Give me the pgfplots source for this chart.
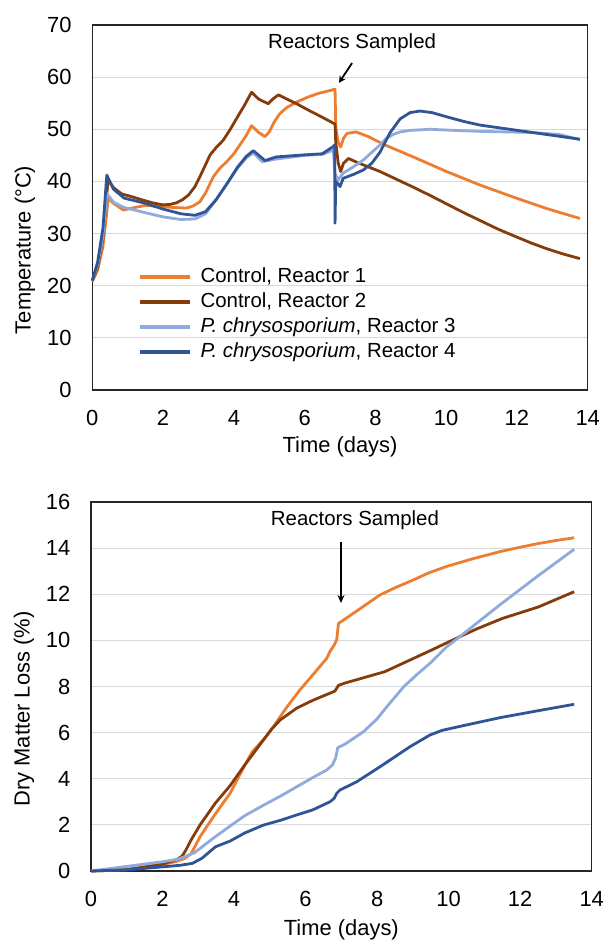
\documentclass[border=0pt]{standalone}
\usepackage{pgfplots}
\pgfplotsset{compat=1.18}
\usepackage{fontspec}
\setmainfont{Liberation Sans}
\usetikzlibrary{arrows.meta}
\definecolor{cOrange}{HTML}{ED7D31}
\definecolor{cBrown}{HTML}{843C0C}
\definecolor{cLight}{HTML}{8FAADC}
\definecolor{cDark}{HTML}{2F5597}
\definecolor{cGrid}{HTML}{D9D9D9}

\pgfplotstableread{
x y
0 20.8
0.15 23
0.3 27.5
0.4 33.5
0.45 36.8
0.6 35.8
0.88 34.5
1.2 35.0
1.5 35.4
1.91 35.2
2.3 35.0
2.67 34.9
2.85 35.3
3.04 36.1
3.2 37.8
3.42 40.9
3.6 42.5
3.8 43.8
4.0 45.3
4.17 47.0
4.35 48.8
4.5 50.7
4.7 49.4
4.88 48.6
5.0 49.5
5.15 51.5
5.3 53.0
5.5 54.2
5.8 55.3
6.1 56.2
6.4 56.9
6.7 57.4
6.86 57.7
6.88 50.5
6.95 47.5
7.02 46.6
7.1 48.3
7.2 49.2
7.45 49.5
7.8 48.6
8.27 47.0
9.07 44.7
10.01 41.9
10.96 39.3
11.9 37.0
12.84 34.8
13.78 32.9
}\TempA

\pgfplotstableread{
x y
0 21
0.15 23.5
0.3 29
0.4 37
0.45 40.3
0.6 38.8
0.83 37.6
1.1 37.1
1.44 36.4
1.7 35.9
2.0 35.5
2.2 35.6
2.38 35.9
2.55 36.5
2.72 37.4
2.9 39
3.04 40.9
3.2 43.2
3.33 45.1
3.5 46.5
3.7 47.9
3.9 50
4.08 52.1
4.3 54.6
4.5 57.1
4.7 55.8
4.97 54.9
5.1 55.8
5.26 56.6
5.5 55.8
5.8 54.8
6.1 53.7
6.5 52.3
6.86 51.0
6.88 47.5
6.95 43.5
7.02 41.9
7.1 43.5
7.24 44.4
7.5 43.6
8.13 41.9
8.6 40.4
9.07 38.9
9.55 37.3
10.01 35.7
10.5 34.0
10.96 32.5
11.45 30.9
11.9 29.6
12.4 28.2
12.84 27.1
13.3 26.1
13.78 25.2
}\TempB

\pgfplotstableread{
x y
0 21
0.15 24
0.3 29.5
0.41 37.7
0.6 36.0
0.9 35.0
1.5 34.0
2.0 33.2
2.5 32.7
2.9 32.8
3.2 33.8
3.5 36.5
3.8 39.5
4.1 42.5
4.35 44.5
4.55 45.5
4.8 43.8
5.2 44.3
6.0 45.0
6.5 45.2
6.81 46.0
6.86 41.5
6.95 40.3
7.09 41.6
7.4 42.9
7.66 44.1
7.9 45.6
8.13 47.0
8.32 48.3
8.5 49.0
8.7 49.5
9.0 49.8
9.54 50.0
10.2 49.8
10.96 49.6
12.37 49.4
13.2 49.0
13.78 48.0
}\TempC

\pgfplotstableread{
x y
0 21
0.15 24.5
0.3 31
0.41 41.2
0.6 38.5
0.9 36.8
1.5 35.8
2.0 34.7
2.5 33.8
2.9 33.5
3.2 34.2
3.5 36.5
3.8 39.5
4.1 42.7
4.35 44.8
4.55 45.9
4.88 44.0
5.2 44.7
6.0 45.1
6.5 45.3
6.81 46.7
6.85 47.0
6.86 32.0
6.88 40.0
6.95 39.5
7.0 39.0
7.09 40.6
7.4 41.4
7.66 42.2
7.9 43.5
8.13 45.6
8.41 49.3
8.7 52.0
8.98 53.2
9.26 53.5
9.6 53.2
10.01 52.4
10.5 51.5
10.96 50.8
11.9 49.9
12.84 49.0
13.78 48.1
}\TempD

\pgfplotstableread{
x y
0 0
1 0.08
2 0.28
2.4 0.42
2.62 0.55
2.8 0.75
3.05 1.49
3.4 2.3
3.69 2.94
3.89 3.37
4.23 4.38
4.5 5.15
4.88 5.8
5.1 6.26
5.45 7.05
5.84 7.85
6.2 8.5
6.59 9.22
6.68 9.51
6.8 9.8
6.87 10.02
6.92 10.74
7.06 10.88
7.5 11.35
8.08 11.97
8.5 12.28
9.01 12.62
9.45 12.93
9.93 13.2
10.7 13.55
11.44 13.85
12.0 14.04
12.51 14.2
13.0 14.33
13.51 14.45
}\DmlA

\pgfplotstableread{
x y
0 0
1 0.05
2 0.3
2.4 0.5
2.55 0.65
2.65 0.9
2.8 1.35
3.05 2.0
3.48 2.95
3.89 3.7
4.3 4.6
4.82 5.68
5.05 6.15
5.29 6.55
5.75 7.06
6.2 7.4
6.68 7.71
6.82 7.8
6.92 8.05
7.1 8.15
8.21 8.64
9.48 9.55
10.31 10.16
10.79 10.5
11.5 10.95
12.51 11.45
13.51 12.11
}\DmlB

\pgfplotstableread{
x y
0 0
1 0.2
2 0.4
2.4 0.5
2.62 0.62
2.9 0.8
3.4 1.4
3.89 1.95
4.3 2.4
4.82 2.85
5.3 3.25
5.75 3.65
6.2 4.05
6.59 4.38
6.75 4.6
6.84 4.9
6.9 5.35
7.1 5.5
7.62 6.04
8.0 6.6
8.27 7.12
8.75 8.0
9.1 8.5
9.48 9.01
9.93 9.7
10.31 10.16
11.44 11.55
12.5 12.8
13.51 13.95
}\DmlC

\pgfplotstableread{
x y
0 0
1 0.05
2 0.18
2.5 0.25
2.83 0.33
3.1 0.55
3.48 1.05
3.89 1.3
4.3 1.65
4.82 1.99
5.3 2.2
5.75 2.43
6.2 2.65
6.68 3.0
6.8 3.15
6.87 3.37
6.96 3.51
7.43 3.87
8.08 4.52
8.92 5.39
9.48 5.9
9.82 6.1
10.4 6.3
11.44 6.65
12.5 6.95
13.51 7.23
}\DmlD

\pgfplotsset{
  myaxis/.style={
    scale only axis,
    xmin=0, xmax=14, xtick={0,2,...,14},
    axis line style={black!85, line width=1.3bp},
    major tick length=0pt,
    ymajorgrids,
    grid style={draw=cGrid, line width=1bp},
    tick label style={font=\fontsize{22}{22}\selectfont},
    /pgf/number format/assume math mode=true,
    yticklabel style={inner sep=0pt, xshift=-20.5bp},
    xticklabel style={inner sep=0pt, yshift=-20bp},
    label style={font=\fontsize{22}{22}\selectfont},
    every axis plot/.append style={line width=2.8bp, line join=round, no markers},
    clip=false,
  }
}

\begin{document}
\begin{tikzpicture}
\useasboundingbox (0bp,0bp) rectangle (604bp,-941bp);
% Top panel: temperature
\begin{axis}[myaxis,
  at={(92.3bp,-390bp)}, anchor=south west,
  width=495.4bp, height=365bp,
  ymin=0, ymax=70, ytick={0,10,...,70},
  xlabel={Time (days)}, ylabel={Temperature (°C)},
  xlabel style={at={(axis description cs:0.5,-0.156)}, anchor=center},
  ylabel style={at={(axis description cs:-0.136,0.384)}, anchor=center},
  legend cell align=left,
  legend image code/.code={\draw[#1, line width=3.5bp] (0bp,0bp) -- (50bp,0bp);},
  legend style={at={(axis description cs:0.092,0.337)}, anchor=north west,
    draw=none, fill=none, inner sep=0pt, row sep=5bp,
    font=\fontsize{20.5}{20.5}\selectfont,
    nodes={inner sep=0pt, text height=15bp, text depth=5bp},
    /tikz/every odd column/.append style={column sep=9bp}},
]
\addplot[color=cOrange] table[x=x,y=y] {\TempA};
\addlegendentry{Control, Reactor 1}
\addplot[color=cBrown] table[x=x,y=y] {\TempB};
\addlegendentry{Control, Reactor 2}
\addplot[color=cLight] table[x=x,y=y] {\TempC};
\addlegendentry{\textit{P. chrysosporium}, Reactor 3}
\addplot[color=cDark] table[x=x,y=y] {\TempD};
\addlegendentry{\textit{P. chrysosporium}, Reactor 4}
\node[font=\fontsize{20.5}{20.5}\selectfont] at (axis cs:7.34,66.5) {Reactors Sampled};
\draw[-{Stealth[length=7bp,width=7bp]}, line width=1.8bp] (axis cs:7.34,62.7) -- (axis cs:6.97,58.9);
\end{axis}

% Bottom panel: dry matter loss
\begin{axis}[myaxis,
  at={(91bp,-871bp)}, anchor=south west,
  width=500.7bp, height=369bp,
  ymin=0, ymax=16, ytick={0,2,...,16},
  xlabel={Time (days)}, ylabel={Dry Matter Loss (\%)},
  xlabel style={at={(axis description cs:0.5,-0.16)}, anchor=center},
  ylabel style={at={(axis description cs:-0.134,0.439)}, anchor=center},
]
\addplot[color=cOrange] table[x=x,y=y] {\DmlA};
\addplot[color=cBrown] table[x=x,y=y] {\DmlB};
\addplot[color=cLight] table[x=x,y=y] {\DmlC};
\addplot[color=cDark] table[x=x,y=y] {\DmlD};
\node[font=\fontsize{20.5}{20.5}\selectfont] at (axis cs:7.38,15.22) {Reactors Sampled};
\draw[-{Stealth[length=8bp,width=7bp]}, line width=1.8bp] (axis cs:6.99,14.27) -- (axis cs:6.99,11.62);
\end{axis}
\end{tikzpicture}
\end{document}
